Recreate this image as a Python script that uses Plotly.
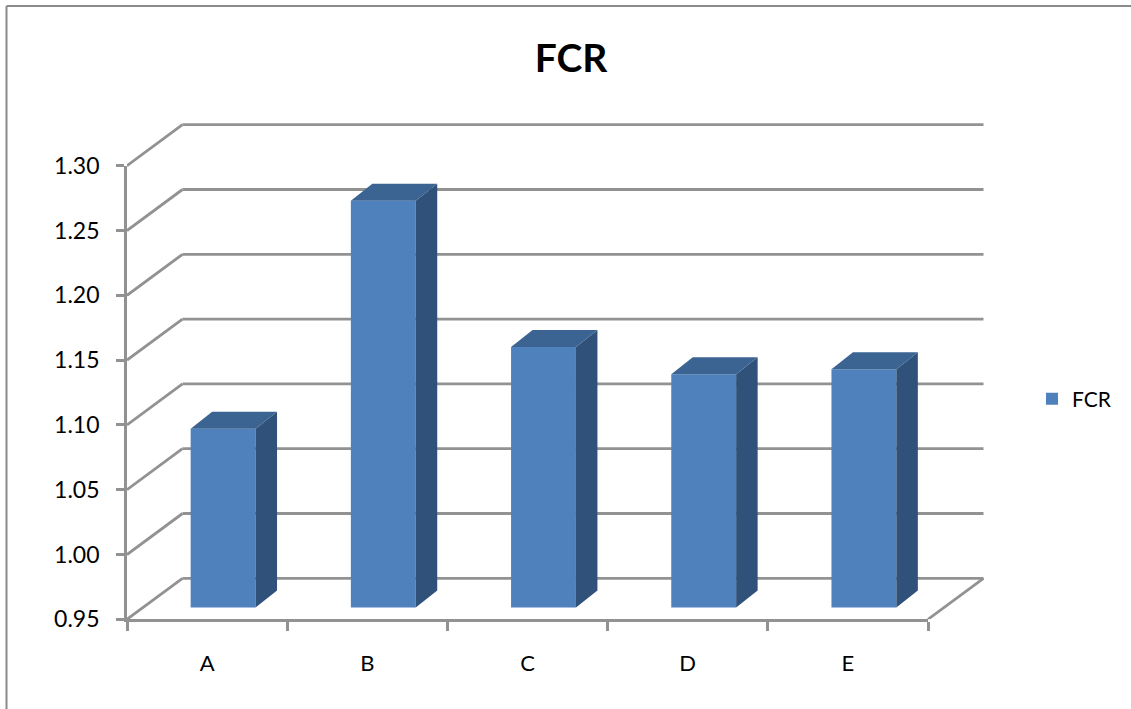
import plotly.graph_objects as go

# Chart data
categories = ["A", "B", "C", "D", "E"]
fcr_values = [1.088, 1.264, 1.151, 1.130, 1.134]
tick_values = [0.95, 1.00, 1.05, 1.10, 1.15, 1.20, 1.25, 1.30]
tick_labels = ["0.95", "1.00", "1.05", "1.10", "1.15", "1.20", "1.25", "1.30"]

# Canvas and front-plane layout, in pixels
W, H = 1131, 709
LEFT, RIGHT = 127.0, 928.0
BOTTOM, TOP = 619.3, 165.7
EXTRA_R, EXTRA_T = 1000.0, 100.0

Y_MIN, Y_MAX = tick_values[0], tick_values[-1]
n = len(categories)
px_per_cat = (RIGHT - LEFT) / n
px_per_val = (BOTTOM - TOP) / (Y_MAX - Y_MIN)


def depth_x(px):
    return px / px_per_cat


def depth_y(px):
    return px / px_per_val


# Oblique depth offsets: wall, bar front plane and bar thickness
WALL_X, WALL_Y = depth_x(55.5), depth_y(41)
FRONT_X, FRONT_Y = depth_x(16), depth_y(11.7)
BAR_X, BAR_Y = depth_x(21.5), depth_y(17)
BAR_W = 0.405

GRID = "#929292"
FACE, SIDE, CAP = "#4f81bd", "#30527a", "#3b6493"
FONT = "Lato, Carlito, Calibri, sans-serif"

centres = [i + 0.5 for i in range(n)]
front_x = [c + FRONT_X for c in centres]
base = Y_MIN + FRONT_Y

side_x, side_y, cap_x, cap_y = [], [], [], []
for c, v in zip(front_x, fcr_values):
    xl, xr = c - BAR_W / 2, c + BAR_W / 2
    top = v + FRONT_Y
    side_x += [xr, xr + BAR_X, xr + BAR_X, xr, xr, None]
    side_y += [base, base + BAR_Y, top + BAR_Y, top, base, None]
    cap_x += [xl, xl + BAR_X, xr + BAR_X, xr, xl, None]
    cap_y += [top, top + BAR_Y, top + BAR_Y, top, top, None]

fig = go.Figure()

# Blank trace that brings the visible axes (ticks and labels) into existence
fig.add_trace(go.Scatter(x=[0, n], y=[Y_MIN, Y_MAX], mode="none", xaxis="x", yaxis="y",
                         showlegend=False, hoverinfo="skip"))

fig.add_trace(go.Bar(x=front_x, y=[v - Y_MIN for v in fcr_values], base=base, width=BAR_W,
                     name="FCR", marker=dict(color=FACE, line_width=0),
                     xaxis="x2", yaxis="y2"))
fig.add_trace(go.Scatter(x=side_x, y=side_y, mode="lines", fill="toself", fillcolor=SIDE,
                         line=dict(width=0, color=SIDE), xaxis="x2", yaxis="y2",
                         showlegend=False, hoverinfo="skip"))
fig.add_trace(go.Scatter(x=cap_x, y=cap_y, mode="lines", fill="toself", fillcolor=CAP,
                         line=dict(width=0, color=CAP), xaxis="x2", yaxis="y2",
                         showlegend=False, hoverinfo="skip"))

# Wall gridlines, side-wall diagonals and floor edges sit beneath the bars
shapes = []
grid_line = dict(color=GRID, width=2.8)
for t in tick_values:
    shapes.append(dict(type="line", xref="x2", yref="y2", layer="below", line=grid_line,
                       x0=0, y0=t, x1=WALL_X, y1=t + WALL_Y))
    shapes.append(dict(type="line", xref="x2", yref="y2", layer="below", line=grid_line,
                       x0=WALL_X, y0=t + WALL_Y, x1=n + WALL_X, y1=t + WALL_Y))
shapes.append(dict(type="line", xref="x2", yref="y2", layer="below", line=grid_line,
                   x0=n, y0=Y_MIN, x1=n + WALL_X, y1=Y_MIN + WALL_Y))

# Chart-area border: left and top edges only
frame = dict(color="#8a8a8a", width=2)
shapes.append(dict(type="line", xref="paper", yref="paper", line=frame,
                   x0=6.5 / W, y0=0, x1=6.5 / W, y1=1 - 6 / H))
shapes.append(dict(type="line", xref="paper", yref="paper", line=frame,
                   x0=6.5 / W, y0=1 - 6 / H, x1=1, y1=1 - 6 / H))

fig.update_layout(
    width=W, height=H, autosize=False,
    margin=dict(l=0, r=0, t=0, b=0, autoexpand=False),
    paper_bgcolor="white", plot_bgcolor="rgba(0,0,0,0)",
    font=dict(family=FONT, color="black", size=22),
    title=dict(text="<b>FCR</b>", x=571 / W, xanchor="center", xref="paper",
               y=1 - 58 / H, yanchor="middle", yref="paper",
               font=dict(family=FONT, size=39, color="black")),
    shapes=shapes,
    showlegend=True,
    legend=dict(x=1032 / W, xanchor="left", y=1 - 399 / H, yanchor="middle",
                bgcolor="rgba(0,0,0,0)", font=dict(family=FONT, size=21, color="black")),
    xaxis=dict(
        domain=[LEFT / W, RIGHT / W], range=[0, n], anchor="y", automargin=False,
        tickmode="array", tickvals=centres, ticktext=categories,
        ticks="", ticklabelstandoff=22, showgrid=False, zeroline=False,
        showline=True, linecolor=GRID, linewidth=2.8,
        tickfont=dict(family=FONT, size=22),
        minor=dict(tickmode="array", tickvals=list(range(n + 1)), ticks="outside",
                   ticklen=9, tickwidth=2.8, tickcolor=GRID, showgrid=False),
    ),
    yaxis=dict(
        domain=[1 - BOTTOM / H, 1 - TOP / H], range=[Y_MIN, Y_MAX], anchor="x", automargin=False,
        tickmode="array", tickvals=tick_values, ticktext=tick_labels,
        ticks="outside", ticklen=8, tickwidth=2.8, tickcolor=GRID,
        ticklabelstandoff=12, showgrid=False, zeroline=False,
        showline=True, linecolor=GRID, linewidth=2.8,
        tickfont=dict(family=FONT, size=23),
    ),
    # Hidden companion axes share the same scale but reach out to the back wall
    xaxis2=dict(domain=[LEFT / W, EXTRA_R / W], range=[0, (EXTRA_R - LEFT) / px_per_cat],
                anchor="y2", visible=False),
    yaxis2=dict(domain=[1 - BOTTOM / H, 1 - EXTRA_T / H],
                range=[Y_MIN, Y_MIN + (BOTTOM - EXTRA_T) / px_per_val],
                anchor="x2", visible=False),
)

fig.write_html("out.html")
